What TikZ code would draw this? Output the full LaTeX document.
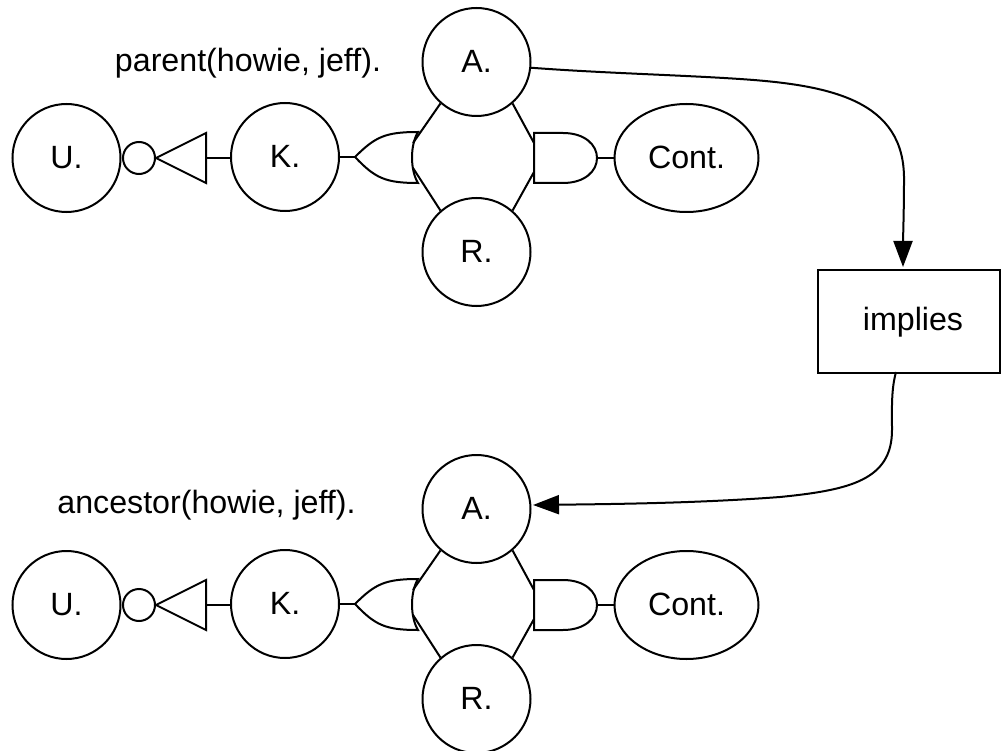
\documentclass[tikz,border=0pt]{standalone}
\usepackage{fontspec}
\setmainfont{Liberation Sans}
\usetikzlibrary{arrows.meta,shapes.geometric}
\tikzset{
  x=1pt,y=-1pt,
  every node/.style={font=\fontsize{32.2}{36}\selectfont},
  wire/.style={draw=black,line width=2pt},
  gate/.style={draw=black,line width=2pt,fill=white,line join=miter},
  term/.style={circle,draw=black,line width=2pt,minimum size=108pt,inner sep=0pt,text height=23pt,text depth=2pt},
  contnode/.style={ellipse,draw=black,line width=2pt,minimum width=144pt,minimum height=108pt,inner sep=0pt,text height=23pt,text depth=2pt},
  link/.style={draw=black,line width=2pt,-{Triangle[length=26pt,width=19pt]}}
}
\newcommand{\logicgroup}[2]{%
  \begin{scope}[yshift=-#2pt]
    \node[term] (#1U) at (66.5,158) {U.};
    \node[term] (#1K) at (285,157) {K.};
    \node[term] (#1A) at (476.5,62) {A.};
    \node[term] (#1R) at (476.5,252) {R.};
    \node[contnode] (#1C) at (686.5,158) {Cont.};
    \node[circle,draw=black,line width=2pt,minimum size=32pt,inner sep=0pt] (#1N) at (139,158) {};
    \coordinate (#1Ttip) at (156,158);
    \coordinate (#1Tb) at (206,158);
    \coordinate (#1Otip) at (355,157);
    \coordinate (#1Ou) at (413,143);
    \coordinate (#1Ol) at (413,168);
    \coordinate (#1Au) at (534,143);
    \coordinate (#1Al) at (534,172);
    \coordinate (#1Ao) at (597,158);
    \draw[gate] (#1Ttip) -- (206,133) -- (206,183) -- cycle;
    \draw[gate] (#1Otip) .. controls (375,137) and (385,132) .. (418,132)
      .. controls (410,145) and (410,170) .. (418,183)
      .. controls (385,183) and (375,178) .. cycle;
    \draw[gate] (534,133) -- (563,133) .. controls (585,133) and (597,145) .. (#1Ao)
      .. controls (597,171) and (585,183) .. (563,183) -- (534,183) -- cycle;
    \draw[wire] (#1Tb) -- (#1K.west |- #1Tb);
    \draw[wire] (#1K.east) -- (#1Otip);
    \draw[wire] (#1Ao) -- (#1C.west);
    \draw[wire] (#1A.229) -- (#1Ou);
    \draw[wire] (#1R.131) -- (#1Ol);
    \draw[wire] (#1A.311) -- (#1Au);
    \draw[wire] (#1R.49) -- (#1Al);
  \end{scope}}
\begin{document}
\begin{tikzpicture}
  \useasboundingbox (0,0) rectangle (1001,751);
  \logicgroup{p}{0}
  \logicgroup{q}{447}
  \node (ptext) at (248,63) {parent(howie, jeff).};
  \node (qtext) at (206.5,505) {ancestor(howie, jeff).};
  \node[draw=black,line width=2pt,minimum width=182pt,minimum height=102pt,inner sep=0pt] (imp) at (909,321.5) {};
  \node (implabel) at (913,322) {implies};
  \coordinate (impin) at (903,267);
  \coordinate (impout) at (896,372);
  \coordinate (qin) at (533,505);
  \draw[link] (pA.-6) .. controls (600,73) and (680,75) .. (740,79)
    .. controls (830,85) and (905,100) .. (904,180) .. controls (904,210) and (903,240) .. (impin);
  \draw[link] (impout) .. controls (891,390) and (892,410) .. (892,430)
    .. controls (892,480) and (850,490) .. (780,497) .. controls (700,503) and (620,504) .. (qin);
\end{tikzpicture}
\end{document}
